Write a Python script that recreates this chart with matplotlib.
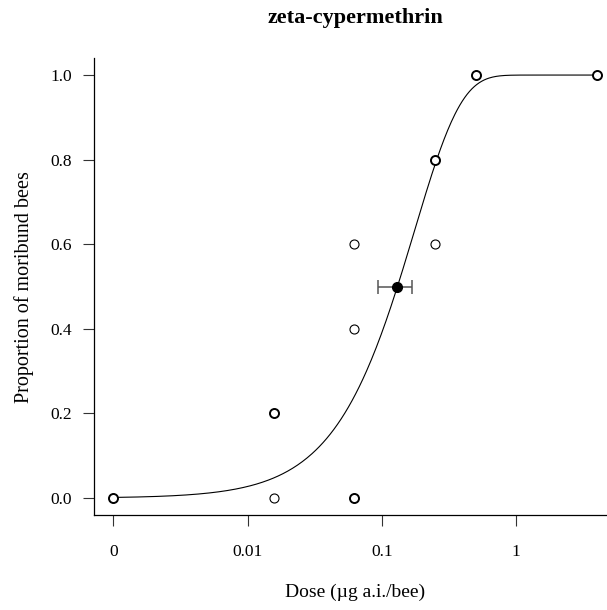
import numpy as np
import matplotlib
matplotlib.use("Agg")
import matplotlib.pyplot as plt
from collections import Counter

plt.rcParams["font.family"] = ["Liberation Serif", "DejaVu Serif"]

# observed proportions (dose 0 is shown at the 0.001 break)
doses = [0, 0, 0, 0.015625, 0.015625, 0.015625, 0.0625, 0.0625, 0.0625, 0.0625,
         0.25, 0.25, 0.25, 0.5, 0.5, 4, 4]
responses = [0.0, 0.0, 0.0, 0.2, 0.2, 0.0, 0.6, 0.4, 0.0, 0.0,
             0.8, 0.8, 0.6, 1.0, 1.0, 1.0, 1.0]

# two-parameter Weibull (type 2) fit
slope_b = 1.25
scale_e = 0.1755

ed50 = 0.131
ed50_lower = 0.094
ed50_upper = 0.169

zero_break = 0.001
x_ticks = [0.001, 0.01, 0.1, 1]
x_tick_labels = ["0", "0.01", "0.1", "1"]
y_ticks = [0.0, 0.2, 0.4, 0.6, 0.8, 1.0]


def weibull2(x, b, e):
    return 1.0 - np.exp(-np.exp(b * (np.log(x) - np.log(e))))


fig = plt.figure(figsize=(6.07, 6.10), dpi=100)
ax = fig.add_axes([0.1549, 0.1557, 0.860, 0.749])

plot_doses = [d if d > 0 else zero_break for d in doses]

# fitted curve
xs = np.logspace(np.log10(zero_break), np.log10(max(doses)), 400)
ax.plot(xs, weibull2(xs, slope_b, scale_e), color="black", lw=0.8, zorder=2)

# observations; repeated points get a heavier outline
counts = Counter(zip(plot_doses, responses))
for (d, r), n in counts.items():
    ax.plot(d, r, "o", ms=6.5, mfc="white", mec="black",
            mew=0.8 if n == 1 else 1.4, zorder=3)

# ED50 with confidence interval
ax.errorbar(ed50, 0.5, xerr=[[ed50 - ed50_lower], [ed50_upper - ed50]],
            fmt="o", ms=7, mfc="black", mec="black", ecolor="#555555",
            elinewidth=1.1, capsize=5, capthick=1.1, zorder=4)

ax.set_xscale("log")
ax.set_xlim(10 ** -3.144, 10 ** 0.746)
ax.set_ylim(-0.04, 1.04)
ax.set_xticks(x_ticks)
ax.set_xticklabels(x_tick_labels)
ax.minorticks_off()
ax.set_yticks(y_ticks)
ax.set_yticklabels([f"{v:.1f}" for v in y_ticks])

for side in ["top", "right"]:
    ax.spines[side].set_visible(False)
for side in ["left", "bottom"]:
    ax.spines[side].set_linewidth(0.9)

ax.tick_params(axis="both", direction="out", length=8, width=0.8,
               labelsize=12.5, color="#333333")
ax.tick_params(axis="x", pad=13)
ax.tick_params(axis="y", pad=8)

ax.set_xlabel("Dose (µg a.i./bee)", fontsize=14, labelpad=17)
ax.set_ylabel("Proportion of moribund bees", fontsize=14.5, labelpad=12)
ax.set_title("zeta-cypermethrin", fontsize=16, fontweight="bold", pad=25)

fig.savefig("out.png", dpi=100)
